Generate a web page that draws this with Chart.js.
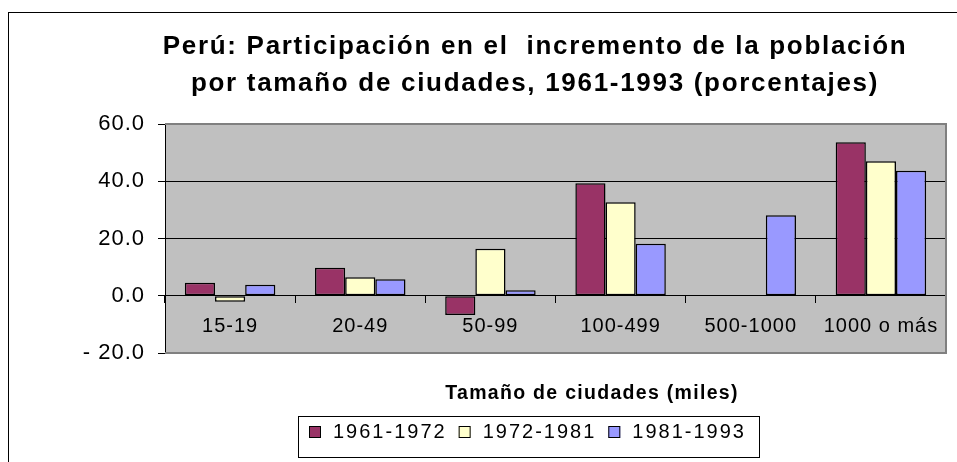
<!DOCTYPE html>
<html>
<head>
<meta charset="utf-8">
<script src="https://cdn.jsdelivr.net/npm/chart.js@4.4.1/dist/chart.umd.min.js"></script>
<style>
  html, body { margin: 0; padding: 0; background: #fff; }
  #wrap { width: 957px; height: 462px; }
</style>
</head>
<body>
<div id="wrap"><canvas id="mycanvas" width="957" height="462"></canvas></div>
<script>
// datos
var ciudades = ['15-19', '20-49', '50-99', '100-499', '500-1000', '1000 o más'];
var periodos = ['1961-1972', '1972-1981', '1981-1993'];
var p1961 = [4.5, 9.8, -6.7, 39.3, 0, 53.6];
var p1972 = [-2.1, 6.5, 16.4, 32.7, 0, 47.0];
var p1981 = [3.8, 5.8, 1.9, 18.2, 28.1, 43.7];
var yTicks = [-20, 0, 20, 40, 60];

var tituloLineas = ['Perú: Participación en el  incremento de la población', 'por tamaño de ciudades, 1961-1993 (porcentajes)'];
var tituloEje = 'Tamaño de ciudades (miles)';

var colores = ['#993366', '#FFFFCC', '#9999FF'];
var fuente = '"Liberation Sans", Arial, sans-serif';

function fmt(v) {
	if (v < 0) return '- ' + Math.abs(v).toFixed(1);
	return v.toFixed(1);
}

var marco = {
	id: 'marco',
	beforeDraw: function(chart) {
		var ctx = chart.ctx, a = chart.chartArea;
		ctx.save();
		ctx.fillStyle = '#fff';
		ctx.fillRect(0, 0, chart.width, chart.height);
		// borde exterior
		ctx.strokeStyle = '#000';
		ctx.lineWidth = 1;
		ctx.strokeRect(8.5, 12.5, 1000, 1000);
		ctx.fillStyle = '#C0C0C0';
		ctx.fillRect(a.left, a.top, a.right - a.left, a.bottom - a.top);
		ctx.restore();
		ctx.letterSpacing = '1px';
	},
	beforeDatasetsDraw: function(chart) {
		var ctx = chart.ctx, a = chart.chartArea;
		ctx.save();
		ctx.strokeStyle = '#808080';
		ctx.lineWidth = 2;
		ctx.beginPath();
		ctx.moveTo(a.left, a.top);
		ctx.lineTo(a.right, a.top);
		ctx.lineTo(a.right, a.bottom);
		ctx.lineTo(a.left, a.bottom);
		ctx.stroke();
		ctx.restore();
	},
	afterDraw: function(chart) {
		var ctx = chart.ctx;
		ctx.save();
		ctx.fillStyle = '#000';
		ctx.textBaseline = 'alphabetic';
		// titulo
		ctx.letterSpacing = '1.7px';
		ctx.font = 'bold 26px ' + fuente;
		ctx.textAlign = 'center';
		ctx.fillText(tituloLineas[0], 535, 54);
		ctx.fillText(tituloLineas[1], 535, 91);
		// titulo del eje
		ctx.letterSpacing = '1.3px';
		ctx.font = 'bold 19.5px ' + fuente;
		ctx.fillText(tituloEje, 592, 399);
		// leyenda
		ctx.textAlign = 'left';
		ctx.letterSpacing = '2px';
		ctx.font = '20px ' + fuente;
		ctx.strokeStyle = '#000';
		ctx.lineWidth = 1;
		ctx.strokeRect(298.5, 416.5, 461, 41);
		var x = 309;
		chart.data.datasets.forEach(function(ds) {
			ctx.fillStyle = ds.backgroundColor;
			ctx.fillRect(x, 426, 12, 12);
			ctx.strokeRect(x + 0.5, 426.5, 11, 11);
			ctx.fillStyle = '#000';
			ctx.fillText(ds.label, x + 24, 438);
			x += 24 + ctx.measureText(ds.label).width + 12;
		});
		ctx.restore();
	}
};

var ctx = document.getElementById('mycanvas');

var barGraph = new Chart(ctx, {
	type: 'bar',
	data: {
		labels: ciudades,
		datasets: [
			{ label: periodos[0], data: p1961, backgroundColor: colores[0] },
			{ label: periodos[1], data: p1972, backgroundColor: colores[1] },
			{ label: periodos[2], data: p1981, backgroundColor: colores[2] }
		]
	},
	options: {
		responsive: false,
		animation: false,
		devicePixelRatio: 1,
		layout: { padding: { top: 124, bottom: 109, left: 0, right: 11 } },
		datasets: {
			bar: {
				categoryPercentage: 0.695,
				barPercentage: 1.0,
				borderColor: '#000',
				borderWidth: 1.5,
				borderSkipped: false
			}
		},
		plugins: {
			legend: { display: false },
			title: { display: false },
			tooltip: { enabled: false }
		},
		scales: {
			x: {
				position: { y: 0 },
				afterFit: function(s) { s.height = 0; },
				grid: { offset: true, drawOnChartArea: false, tickLength: 7, color: '#000' },
				border: { display: true, color: '#000', width: 1 },
				ticks: { color: '#000', padding: 12, font: { family: fuente, size: 20 }, maxRotation: 0 }
			},
			y: {
				min: -20,
				max: 60,
				afterFit: function(s) { s.width = 165; },
				afterBuildTicks: function(s) { s.ticks = yTicks.map(function(v) { return { value: v }; }); },
				ticks: {
					color: '#000',
					padding: 13,
					font: { family: fuente, size: 22 },
					callback: function(v) { return fmt(v); }
				},
				grid: {
					tickLength: 7,
					tickColor: '#000',
					color: function(c) {
						var v = c.tick ? c.tick.value : null;
						return (v === 0 || v === 20 || v === 40) ? '#000' : 'rgba(0,0,0,0)';
					}
				},
				border: { display: true, color: '#000', width: 1 }
			}
		}
	},
	plugins: [marco]
});
</script>
</body>
</html>
